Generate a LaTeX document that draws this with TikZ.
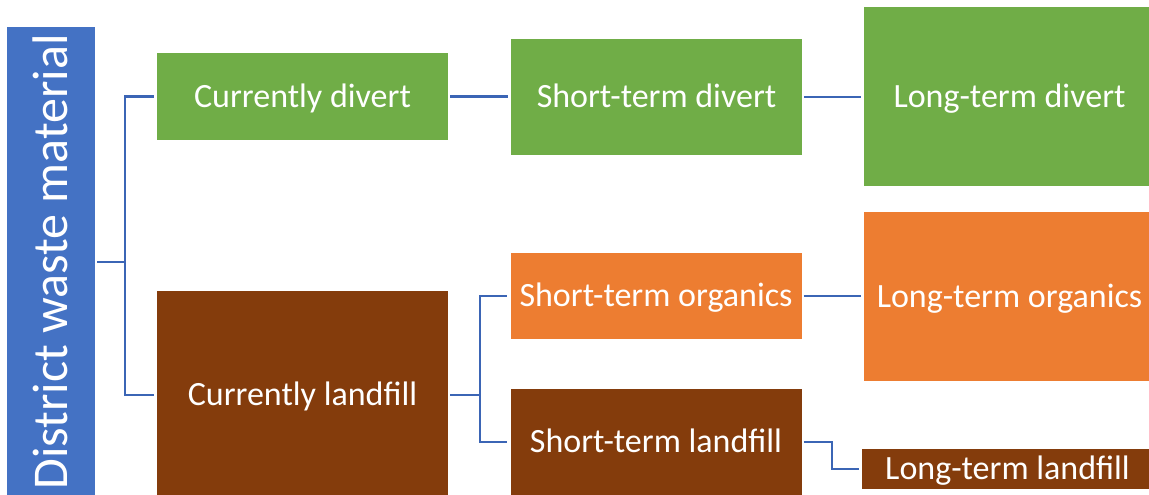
\documentclass[tikz,border=0pt]{standalone}
\usepackage{fontspec}
\setmainfont{Carlito}
\definecolor{cblue}{HTML}{4472C4}
\definecolor{cgreen}{HTML}{70AD47}
\definecolor{corange}{HTML}{ED7D31}
\definecolor{cbrown}{HTML}{843C0C}
\definecolor{cline}{HTML}{3B65B5}
\tikzset{
  box/.style={rectangle, inner sep=0pt, text=white, font=\fontsize{34}{40}\selectfont,
     text height=21.9pt, text depth=0pt, minimum width=291pt, anchor=center},
  greenbox/.style={box, fill=cgreen},
  orangebox/.style={box, fill=corange},
  brownbox/.style={box, fill=cbrown},
  conn/.style={draw=cline, line width=2.3pt, shorten <=2pt, shorten >=3pt}
}
\begin{document}
\begin{tikzpicture}[x=1pt,y=-1pt]
\useasboundingbox (0,0) rectangle (1149,495);
\clip (0,0) rectangle (1149,495);
\node[rectangle, fill=cblue, inner sep=0pt, text=white, font=\fontsize{50}{60}\selectfont,
  text height=32.2pt, text depth=0pt, rotate=90, minimum width=470pt, minimum height=88pt]
  (dwm) at (51,262) {District waste material};
\node[greenbox, minimum height=87pt] (cd) at (302.5,96.5) {Currently divert};
\node[brownbox, minimum height=208pt] (cl) at (302.5,395) {Currently landfill};
\node[greenbox, minimum height=116pt] (sd) at (656.5,97) {Short-term divert};
\node[orangebox, minimum height=86pt] (so) at (656,296) {Short-term organics};
\node[brownbox, minimum height=106pt] (sl) at (656,442) {Short-term landfill};
\node[greenbox, minimum height=179pt] (ld) at (1009.5,96.5) {Long-term divert};
\node[orangebox, minimum height=169pt] (lo) at (1009.5,296.5) {Long-term organics};
\node[brownbox, minimum height=40pt] (ll) at (1007.5,469) {Long-term landfill};
\draw[conn] (dwm.south) -- ++(30,0) |- (cd.west);
\draw[conn] (dwm.south) -- ++(30,0) |- (cl.west);
\draw[conn] (cd.east) -- (sd.west |- cd.east);
\draw[conn] (sd.east) -- (ld.west |- sd.east);
\draw[conn] (cl.east) -- ++(32,0) |- (so.west);
\draw[conn] (cl.east) -- ++(32,0) |- (sl.west);
\draw[conn] (so.east) -- (lo.west |- so.east);
\draw[conn] (sl.east) -- ++(30,0) |- (ll.west);
\end{tikzpicture}
\end{document}
